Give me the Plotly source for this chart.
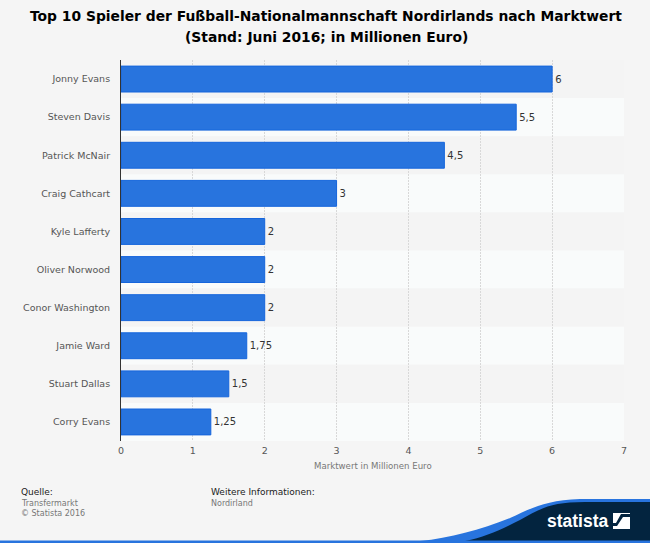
import plotly.graph_objects as go

players = ["Jonny Evans", "Steven Davis", "Patrick McNair", "Craig Cathcart", "Kyle Lafferty",
           "Oliver Norwood", "Conor Washington", "Jamie Ward", "Stuart Dallas", "Corry Evans"]
values = [6, 5.5, 4.5, 3, 2, 2, 2, 1.75, 1.5, 1.25]
value_labels = ["6", "5,5", "4,5", "3", "2", "2", "2", "1,75", "1,5", "1,25"]
x_ticks = [0, 1, 2, 3, 4, 5, 6, 7]

W, H = 650, 543
L, R, T, B = 121, 26, 60, 102
FONT = "DejaVu Sans"
BG = "#f5f5f5"
BLUE = "#2874de"
NAVY = "#03243f"


# footer and logo live in pixel positions, convert to paper coords
def px(x):
    return (x - L) / (W - L - R)


def py(y):
    return 1 - (y - T) / (H - T - B)


def path(points, tail=""):
    return "M " + " L ".join(f"{px(a):.4f},{py(b):.4f}" for a, b in points) + tail


def curve(cmds):
    out = []
    for c in cmds:
        out.append(c[0] + " " + " ".join(f"{px(c[i]):.4f},{py(c[i + 1]):.4f}" for i in range(1, len(c), 2)))
    return " ".join(out) + " Z"


fig = go.Figure()
fig.add_trace(go.Bar(
    x=values, y=players, orientation="h", width=0.68,
    marker=dict(color=BLUE, line=dict(color="#1565dc", width=1)),
    text=value_labels, textposition="outside", cliponaxis=False,
    textfont=dict(family=FONT, size=10, color="#333333"),
))

shapes = []
# alternating row bands
for i in range(len(players)):
    shapes.append(dict(type="rect", xref="x", yref="y", layer="below", x0=0, x1=7,
                       y0=i - 0.5, y1=i + 0.5, line_width=0,
                       fillcolor="#f9fbfb" if i % 2 else "#f4f4f4"))

# blue swoosh, navy footer, bottom strip
shapes.append(dict(type="path", xref="paper", yref="paper", line_width=0, fillcolor=BLUE, layer="above",
                   path=curve([("M", 420, 541), ("C", 450, 538, 480, 530, 510, 518), ("C", 530, 509, 545, 500, 580, 499),
                               ("L", 650, 499), ("L", 650, 543), ("L", 420, 543)])))
shapes.append(dict(type="path", xref="paper", yref="paper", line_width=0, fillcolor=NAVY, layer="above",
                   path=curve([("M", 465, 541), ("C", 485, 537, 500, 530, 520, 520), ("C", 540, 509, 550, 502, 585, 502),
                               ("L", 650, 502), ("L", 650, 541), ("L", 465, 541)])))
shapes.append(dict(type="rect", xref="paper", yref="paper", line_width=0, fillcolor=BLUE, layer="above",
                   x0=px(0), x1=px(650), y0=py(543), y1=py(540.5)))
# logo square
shapes.append(dict(type="rect", xref="paper", yref="paper", line_width=0, fillcolor="white", layer="above",
                   x0=px(613), x1=px(630), y0=py(529), y1=py(513)))
shapes.append(dict(type="path", xref="paper", yref="paper", line_width=0, fillcolor=NAVY, layer="above",
                   path=path([(613, 526), (617, 526), (623, 517), (630, 517), (630, 514), (621, 514), (616, 523), (613, 523)], " Z")))

annotations = [
    dict(text="Marktwert in Millionen Euro", x=px(373), y=py(466), font=dict(size=8.6, color="#777777")),
    dict(text="Quelle:", x=px(19), y=py(492), xanchor="left", font=dict(size=9, color="#222222")),
    dict(text="Transfermarkt", x=px(19), y=py(503), xanchor="left", font=dict(size=8, color="#777777")),
    dict(text="© Statista 2016", x=px(19), y=py(513), xanchor="left", font=dict(size=8, color="#777777")),
    dict(text="Weitere Informationen:", x=px(209), y=py(492), xanchor="left", font=dict(size=9, color="#222222")),
    dict(text="Nordirland", x=px(209), y=py(503), xanchor="left", font=dict(size=8, color="#777777")),
    dict(text="<b>statista</b>", x=px(578), y=py(521),
         font=dict(size=17.5, color="white", family="Liberation Sans")),
    dict(text="<b>Top 10 Spieler der Fußball-Nationalmannschaft Nordirlands nach Marktwert</b>",
         x=px(326), y=py(16.5), font=dict(size=13.85, color="#000000")),
    dict(text="<b>(Stand: Juni 2016; in Millionen Euro)</b>",
         x=px(326), y=py(37), font=dict(size=13.85, color="#000000")),
]
for a in annotations:
    a.update(xref="paper", yref="paper", showarrow=False, yanchor="middle")
    a.setdefault("xanchor", "center")
    a["font"].setdefault("family", FONT)

fig.update_layout(
    width=W, height=H, margin=dict(l=L, r=R, t=T, b=B),
    paper_bgcolor=BG, plot_bgcolor=BG, showlegend=False,
    font=dict(family=FONT, size=10, color="#555555"),
    shapes=shapes, annotations=annotations,
    xaxis=dict(range=[0, 7], tickvals=x_ticks, showgrid=True, gridcolor="#d8d8d8", gridwidth=1, griddash="2px,1px",
               zeroline=False, showline=False, ticks="", ticklabelstandoff=2,
               tickfont=dict(size=9.5, color="#555555")),
    yaxis=dict(autorange=False, range=[9.5, -0.5], categoryorder="array", categoryarray=players,
               showgrid=False, zeroline=False, showline=True, linecolor="#333333", linewidth=1,
               ticks="", ticklabelstandoff=8, tickfont=dict(size=9.5, color="#555555")),
)

# page default margin would push the chart off the window
fig.write_html("out.html", config={"displayModeBar": False}, post_script="document.body.style.margin='0';")
